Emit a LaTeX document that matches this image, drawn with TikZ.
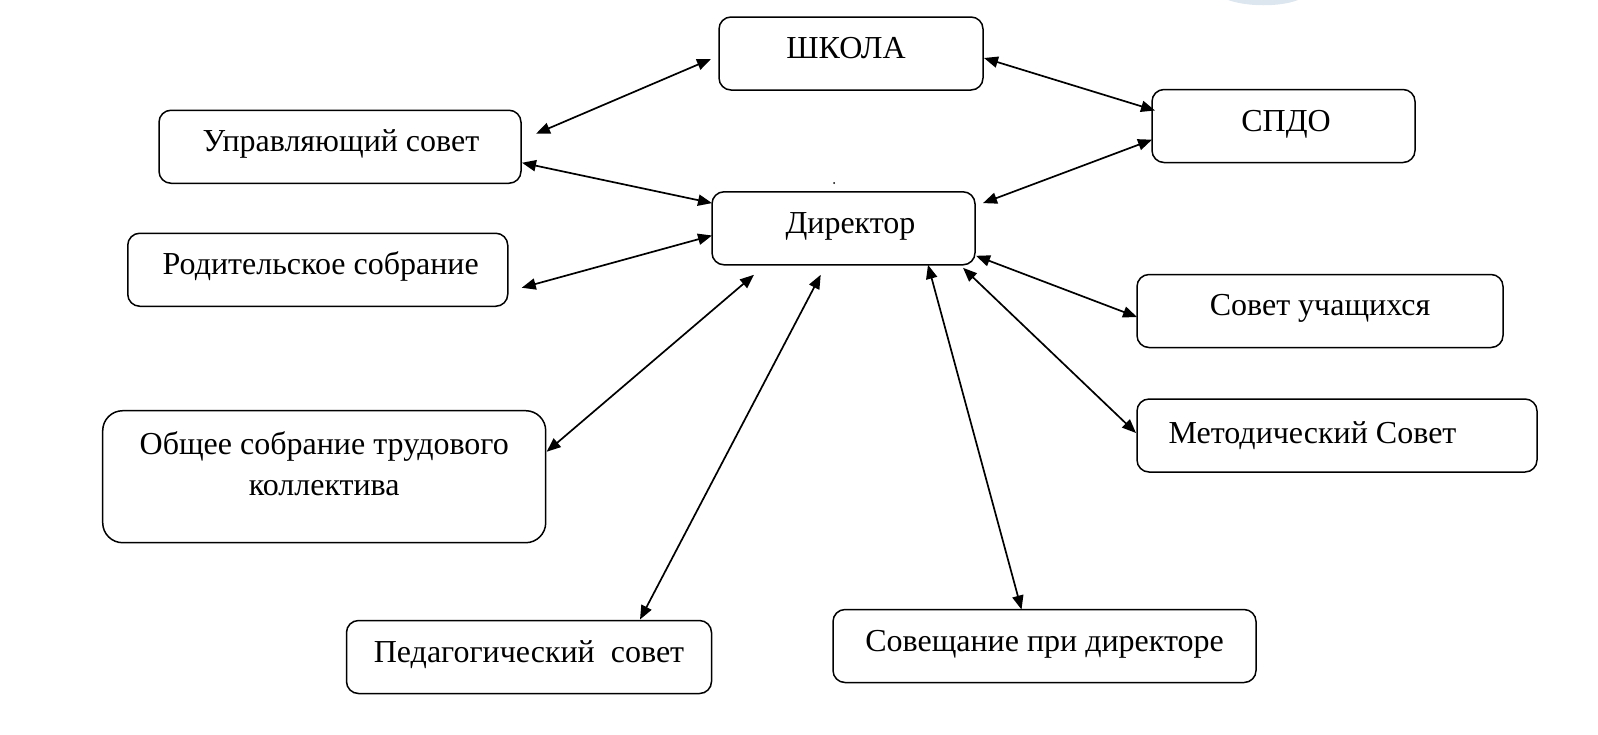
\documentclass[tikz,border=0pt]{standalone}
\usepackage{fontspec}
\setmainfont{Liberation Serif}
\usetikzlibrary{arrows.meta, positioning, calc}
\definecolor{stampblue}{HTML}{DCE6EE}

\begin{document}
\begin{tikzpicture}[x=0.5pt, y=-0.5pt,
    orgbox/.style={rectangle, rounded corners=6pt, draw=black, line width=0.75pt, fill=white,
      inner sep=0pt, outer sep=0pt, align=center, minimum height=36.5pt, text height=10pt, text depth=5pt,
      font=\fontsize{16}{20.5}\selectfont},
    link/.style={{Triangle[length=7pt, width=5.6pt]}-{Triangle[length=7pt, width=5.6pt]}, line width=0.85pt, black}]

    \useasboundingbox (0,0) rectangle (1598,734);

    \fill [stampblue] (1228,0) .. controls (1248,7) and (1280,7) .. (1298,0) -- cycle;
    \fill [black] (834,183) circle (1);

    \node (school) [orgbox, minimum width=132pt] at (851,53.5) {ШКОЛА\hspace*{5pt}};
    \node (spdo) [orgbox, minimum width=131.5pt] at (1283.5,126) {\hspace*{2.5pt}СПДО};
    \node (board) [orgbox, minimum width=181pt] at (340,146.75) {\hspace*{1pt}Управляющий совет};
    \node (director) [orgbox, minimum width=131.5pt, text depth=4.5pt] at (843.5,228.3) {\hspace*{7pt}Директор};
    \node (parents) [orgbox, minimum width=190pt] at (317.75,269.75) {\hspace*{3pt}Родительское собрание};
    \node (students) [orgbox, minimum width=183pt, text depth=6pt] at (1320,311) {Совет учащихся};
    \node (method) [orgbox, minimum width=200pt, text depth=2pt] at (1337,435.5) {Методический Совет\hspace*{24.5pt}};
    \node (staff) [orgbox, rounded corners=10pt, minimum width=221.5pt, minimum height=66pt, text height=30pt, text depth=11.7pt] at (324.2,476.7) {Общее собрание трудового\\коллектива};
    \node (teachers) [orgbox, minimum width=182.5pt] at (529,657) {Педагогический~ совет};
    \node (meeting) [orgbox, minimum width=211.5pt] at (1044.5,646) {Совещание при директоре};

    \draw [link] ([shift={(15,23.5)}]board.north east) -- ([shift={(-8,5.5)}]school.west);
    \draw [link] ([shift={(1,4.5)}]school.east) -- ([shift={(3,21)}]spdo.north west);
    \draw [link] ([shift={(1,-20.5)}]board.south east) -- ([shift={(0,11.3)}]director.north west);
    \draw [link] ([shift={(0,13.7)}]spdo.west) -- ([shift={(8,11.3)}]director.north east);
    \draw [link] ([shift={(14,-18.5)}]parents.south east) -- ([shift={(0,7.2)}]director.west);
    \draw [link] ([shift={(1,-9)}]director.south east) -- ([shift={(0,6)}]students.west);
    \draw [link] ([shift={(-12,3)}]director.south east) -- ([shift={(-1,-2.5)}]method.west);
    \draw [link] ([shift={(-47,0)}]director.south east) -- ([shift={(-23,0)}]meeting.north);
    \draw [link] ([shift={(-22.8,10)}]director.south) -- ([shift={(111,-1)}]teachers.north);
    \draw [link] ([shift={(42,10)}]director.south west) -- ([shift={(1,-25)}]staff.east);
\end{tikzpicture}
\end{document}
